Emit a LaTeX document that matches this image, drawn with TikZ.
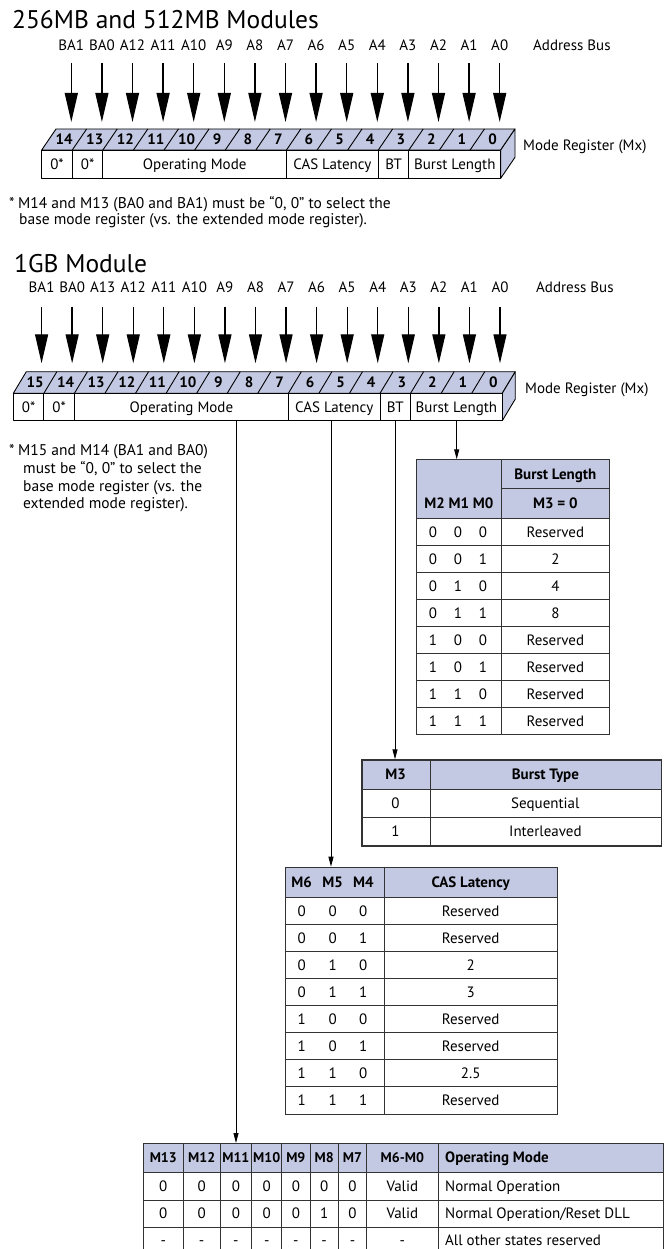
\documentclass[tikz,border=0pt]{standalone}
\usepackage{fontspec}
\setmainfont{PT Sans}
\usetikzlibrary{arrows.meta}
\definecolor{lav}{HTML}{C3C9E2}
\definecolor{tline}{HTML}{333333}
\begin{document}
\begin{tikzpicture}[x=1pt,y=-1pt,
  lbl/.style={inner sep=0pt, font=\fontsize{15}{18}\selectfont, text height=10.5pt, text depth=0pt},
  blbl/.style={lbl, font=\fontsize{15}{18}\selectfont\bfseries},
  omh/.style={lbl, font=\fontsize{14}{17}\selectfont\bfseries},
  fnote/.style={lbl, anchor=west, font=\fontsize{15.5}{18}\selectfont},
  ttl/.style={inner sep=0pt, font=\fontsize{25.5}{30}\selectfont, text height=17.5pt, text depth=0pt, anchor=west},
  bigarrow/.style={line width=1.3pt, -{Triangle[length=29pt,width=13pt]}},
  smallarrow/.style={line width=0.9pt, -{Triangle[length=10pt,width=5pt]}},
  reg/.style={line width=0.9pt, draw=black, line join=round},
  tab/.style={line width=0.9pt, draw=tline},
  tabbox/.style={tab, inner sep=0pt, anchor=north west},
]
\useasboundingbox (0,0) rectangle (669,1249);

% ---------------- 256MB / 512MB ----------------
\node[ttl] (t1) at (12,20) {256MB and 512MB Modules};
\foreach \lab [count=\j from 0] in {BA1,BA0,A12,A11,A10,A9,A8,A7,A6,A5,A4,A3,A2,A1,A0}{
  \pgfmathsetmacro\xx{56+30.6*(\j+0.5)}
  \node[lbl] (ua\j) at (\xx,45) {\lab};
  \coordinate (us\j) at (\xx,63);
  \coordinate (ue\j) at (\xx,122);
  \draw[bigarrow] (us\j) -- (ue\j);
}
\filldraw[reg, fill=lav] (41.7,150) -- (56,129) -- (515,129) -- (500.7,150) -- cycle;
\filldraw[reg, fill=lav] (500.7,150) -- (515,129) -- (515,157.3) -- (500.7,178.3) -- cycle;
\filldraw[reg, fill=white] (41.7,150) rectangle (500.7,178.3);
\foreach \j in {1,...,14} \draw[reg] ({41.7+30.6*\j},150) -- ({41.7+30.6*\j+14.3},129);
\foreach \b [count=\j from 0] in {14,13,...,0}
  \node[blbl] (ub\j) at ({41.7+30.6*(\j+0.5)+7.15},139.5) {\b};
\foreach \j in {1,2,8,11,12} \draw[reg] ({41.7+30.6*\j},150) -- ({41.7+30.6*\j},178.3);
\node[lbl] (uf1) at ({41.7+30.6*0.5},164.2) {0*};
\node[lbl] (uf2) at ({41.7+30.6*1.5},164.2) {0*};
\node[lbl] (uf3) at ({41.7+30.6*5},164.2) {Operating Mode};
\node[lbl] (uf4) at ({41.7+30.6*9.5},164.2) {CAS Latency};
\node[lbl] (uf5) at ({41.7+30.6*11.5},164.2) {BT};
\node[lbl] (uf6) at ({41.7+30.6*13.5},164.2) {Burst Length};
\node[lbl, anchor=west] (uab) at (533,45) {Address Bus};
\node[lbl, anchor=west] (umr) at (523,145) {Mode Register (Mx)};
\node[fnote] (un0) at (9,203) {*};
\node[fnote] (un1) at (18,203) {M14 and M13 (BA0 and BA1) must be “0, 0” to select the};
\node[fnote] (un2) at (19,219) {base mode register (vs. the extended mode register).};

% ---------------- 1GB ----------------
\node[ttl] (t2) at (14,263.5) {1GB Module};
\foreach \lab [count=\j from 0] in {BA1,BA0,A13,A12,A11,A10,A9,A8,A7,A6,A5,A4,A3,A2,A1,A0}{
  \pgfmathsetmacro\xx{26.3+30.56*(\j+0.5)}
  \node[lbl] (ga\j) at (\xx,287) {\lab};
  \coordinate (gs\j) at (\xx,306.7);
  \coordinate (ge\j) at (\xx,363.3);
  \draw[bigarrow] (gs\j) -- (ge\j);
}
\filldraw[reg, fill=lav] (13.3,393.3) -- (26.3,371.7) -- (515.26,371.7) -- (502.26,393.3) -- cycle;
\filldraw[reg, fill=lav] (502.26,393.3) -- (515.26,371.7) -- (515.26,399.1) -- (502.26,420.7) -- cycle;
\filldraw[reg, fill=white] (13.3,393.3) rectangle (502.26,420.7);
\foreach \j in {1,...,15} \draw[reg] ({13.3+30.56*\j},393.3) -- ({13.3+30.56*\j+13},371.7);
\foreach \b [count=\j from 0] in {15,14,...,0}
  \node[blbl] (gb\j) at ({13.3+30.56*(\j+0.5)+6.5},382.5) {\b};
\foreach \j in {1,2,9,12,13} \draw[reg] ({13.3+30.56*\j},393.3) -- ({13.3+30.56*\j},420.7);
\node[lbl] (gf1) at ({13.3+30.56*0.5},407) {0*};
\node[lbl] (gf2) at ({13.3+30.56*1.5},407) {0*};
\node[lbl] (gf3) at ({13.3+30.56*5.5},407) {Operating Mode};
\node[lbl] (gf4) at ({13.3+30.56*10.5},407) {CAS Latency};
\node[lbl] (gf5) at ({13.3+30.56*12.5},407) {BT};
\node[lbl] (gf6) at ({13.3+30.56*14.5},407) {Burst Length};
\node[lbl, anchor=west] (gab) at (536,287.5) {Address Bus};
\node[lbl, anchor=west] (gmr) at (525,388) {Mode Register (Mx)};
\node[fnote] (gn0) at (9,450) {*};
\node[fnote] (gn1) at (18,450) {M15 and M14 (BA1 and BA0)};
\node[fnote] (gn2) at (23,468) {must be “0, 0” to select the};
\node[fnote] (gn3) at (23,486) {base mode register (vs. the};
\node[fnote] (gn4) at (23,503.5) {extended mode register).};

\coordinate (blsrc) at (456.7,420.7);
\coordinate (btsrc) at (395,420.7);
\coordinate (cassrc) at (331,420.7);
\coordinate (omsrc) at (236,420.7);

% ---------------- Burst Length table ----------------
\fill[lav] (416,459.3) rectangle (609,518.3);
\node[tabbox, draw, minimum width=193pt, minimum height=275pt] (bltab) at (416,459.3) {};
\draw[tab] (501.7,459.3) -- (501.7,734.3);
\draw[tab] (501.7,488.3) -- (609,488.3);
\foreach \k in {0,...,7} \draw[tab] (416,{518.3+27*\k}) -- (609,{518.3+27*\k});
\node[blbl] (blh1) at (555.35,473.8) {Burst Length};
\node[blbl] (blh2) at (555.35,503.3) {M3 = 0};
\node[blbl] (blh3) at (458.85,503.3) {M2 M1 M0};
\foreach \a/\b/\c/\v [count=\k from 0] in {0/0/0/Reserved,0/0/1/2,0/1/0/4,0/1/1/8,1/0/0/Reserved,1/0/1/Reserved,1/1/0/Reserved,1/1/1/Reserved}{
  \pgfmathsetmacro\yy{518.3+27*\k+13.5}
  \node[lbl] (bla\k) at (433,\yy) {\a};
  \node[lbl] (blb\k) at (458,\yy) {\b};
  \node[lbl] (blc\k) at (483,\yy) {\c};
  \node[lbl] (blv\k) at (555.35,\yy) {\v};
}
\draw[smallarrow] (blsrc) -- (blsrc |- bltab.north);

% ---------------- Burst Type table ----------------
\fill[lav] (361,759.3) rectangle (660.7,789);
\draw[tab] (430,759.3) -- (430,845.3);
\draw[tab] (361,789) -- (660.7,789);
\draw[tab] (361,817.3) -- (660.7,817.3);
\node[tabbox, draw, line width=1.7pt, minimum width=299.7pt, minimum height=86pt] (bttab) at (361,759.3) {};
\node[blbl] (bth1) at (395.5,774.2) {M3};
\node[blbl] (bth2) at (545.35,774.2) {Burst Type};
\node[lbl] (bta0) at (395.5,803.2) {0};
\node[lbl] (btv0) at (545.35,803.2) {Sequential};
\node[lbl] (bta1) at (395.5,831.3) {1};
\node[lbl] (btv1) at (545.35,831.3) {Interleaved};
\draw[smallarrow] (btsrc) -- (btsrc |- bttab.north);

% ---------------- CAS Latency table ----------------
\fill[lav] (285,866.7) rectangle (557,897.7);
\node[tabbox, draw, minimum width=272pt, minimum height=247pt] (castab) at (285,866.7) {};
\draw[tab] (384.3,866.7) -- (384.3,1113.7);
\foreach \k in {0,...,7} \draw[tab] (285,{897.7+27*\k}) -- (557,{897.7+27*\k});
\node[blbl] (cash1) at (301.7,882.2) {M6};
\node[blbl] (cash2) at (332.7,882.2) {M5};
\node[blbl] (cash3) at (363.3,882.2) {M4};
\node[blbl] (cash4) at (470.65,882.2) {CAS Latency};
\foreach \a/\b/\c/\v [count=\k from 0] in {0/0/0/Reserved,0/0/1/Reserved,0/1/0/2,0/1/1/3,1/0/0/Reserved,1/0/1/Reserved,1/1/0/2.5,1/1/1/Reserved}{
  \pgfmathsetmacro\yy{897.7+27*\k+13.5}
  \node[lbl] (casa\k) at (301.7,\yy) {\a};
  \node[lbl] (casb\k) at (332.7,\yy) {\b};
  \node[lbl] (casc\k) at (363.3,\yy) {\c};
  \node[lbl] (casv\k) at (470.65,\yy) {\v};
}
\draw[smallarrow] (cassrc) -- (cassrc |- castab.north);

% ---------------- Operating Mode table ----------------
\fill[lav] (143.3,1143) rectangle (663,1172);
\draw[tab] (143.3,1249) -- (143.3,1143) -- (663,1143) -- (663,1249);
\foreach \x in {183.3,220,251.7,281.7,310,338.3,366.7,438} \draw[tab] (\x,1143) -- (\x,1249);
\foreach \y in {1172,1200,1227} \draw[tab] (143.3,\y) -- (663,\y);
\coordinate (omtop) at (236,1143);
\foreach \h/\x [count=\k] in {M13/163.3,M12/201.65,M11/235.85,M10/266.7,M9/295.85,M8/324.15,M7/352.5,M6-M0/402.35}
  \node[omh] (omh\k) at (\x,1157.5) {\h};
\node[blbl, anchor=west] (omh9) at (445,1157.5) {Operating Mode};
\foreach \x [count=\k] in {163.3,201.65,235.85,266.7,295.85,324.15,352.5}{
  \node[lbl] (omra\k) at (\x,1186) {0};
  \node[lbl] (omrc\k) at (\x,1240.5) {-};
}
\foreach \v/\x [count=\k] in {0/163.3,0/201.65,0/235.85,0/266.7,0/295.85,1/324.15,0/352.5}
  \node[lbl] (omrb\k) at (\x,1213.5) {\v};
\node[lbl] (omv1) at (402.35,1186) {Valid};
\node[lbl] (omv2) at (402.35,1213.5) {Valid};
\node[lbl] (omv3) at (402.35,1240.5) {-};
\node[lbl, anchor=west] (omd1) at (445,1186) {Normal Operation};
\node[lbl, anchor=west] (omd2) at (445,1213.5) {Normal Operation/Reset DLL};
\node[lbl, anchor=west] (omd3) at (445,1240.5) {All other states reserved};
\draw[smallarrow] (omsrc) -- (omtop);
\end{tikzpicture}
\end{document}
